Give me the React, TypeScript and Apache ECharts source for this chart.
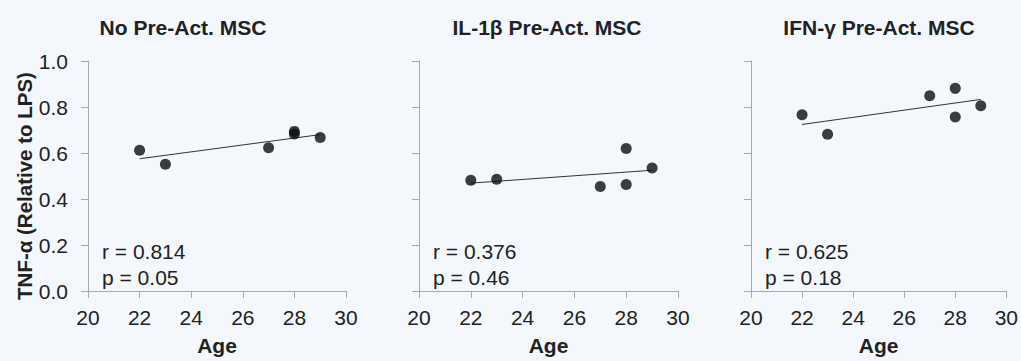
import React, { useEffect, useRef } from "react";
import * as echarts from "echarts";

const panelTitles = ["No Pre-Act. MSC", "IL-1β Pre-Act. MSC", "IFN-γ Pre-Act. MSC"];
const yAxisTitle = "TNF-α (Relative to LPS)";
const xAxisTitle = "Age";
const ages = [22, 23, 27, 28, 28, 29];
const noPreAct = [0.612, 0.551, 0.623, 0.694, 0.683, 0.667];
const il1bPreAct = [0.482, 0.486, 0.454, 0.620, 0.463, 0.535];
const ifngPreAct = [0.766, 0.682, 0.849, 0.881, 0.757, 0.805];
const trendAges = [22, 29];
const noPreActTrend = [0.575, 0.68];
const il1bTrend = [0.469, 0.525];
const ifngTrend = [0.724, 0.833];
const rValues = ["0.814", "0.376", "0.625"];
const pValues = ["0.05", "0.46", "0.18"];
const xTicks = [20, 22, 24, 26, 28, 30];
const yTicks = [0.0, 0.2, 0.4, 0.6, 0.8, 1.0];

const FONT = "'Liberation Sans', Arial, sans-serif";
const TEXT = "#222222";
const AXIS = "#a8a8a8";
const FS = 21;

export default function App() {
  const ref = useRef<HTMLDivElement>(null);
  useEffect(() => {
    if (!ref.current) return;
    const chart = echarts.init(ref.current, undefined, { renderer: "svg" });
    const grids = [
      { left: 88, width: 258 },
      { left: 419, width: 259 },
      { left: 751, width: 257 },
    ];
    const values = [noPreAct, il1bPreAct, ifngPreAct];
    const trends = [noPreActTrend, il1bTrend, ifngTrend];
    const titleCenters = [183, 547, 879];

    const option: any = {
      animation: false,
      backgroundColor: "#f4f8fc",
      textStyle: { fontFamily: FONT },
      grid: grids.map((g) => ({ left: g.left, width: g.width, top: 61, height: 236 })),
      xAxis: grids.map((_, i) => ({
        gridIndex: i,
        type: "value",
        min: xTicks[0],
        max: xTicks[xTicks.length - 1],
        interval: 2,
        name: xAxisTitle,
        nameLocation: "middle",
        nameGap: 44,
        nameTextStyle: { fontFamily: FONT, fontSize: FS, fontWeight: "bold", color: TEXT },
        axisLine: { show: true, lineStyle: { color: AXIS, width: 1 } },
        axisTick: { show: true, length: 7, lineStyle: { color: AXIS } },
        axisLabel: { fontFamily: FONT, fontSize: FS, color: TEXT, margin: 16 },
        splitLine: { show: false },
      })),
      yAxis: grids.map((_, i) => ({
        gridIndex: i,
        type: "value",
        min: yTicks[0],
        max: yTicks[yTicks.length - 1],
        interval: 0.2,
        axisLine: { show: true, lineStyle: { color: AXIS, width: 1 } },
        axisTick: { show: true, length: 7, lineStyle: { color: AXIS } },
        axisLabel: {
          show: i === 0,
          fontFamily: FONT,
          fontSize: FS,
          color: TEXT,
          margin: 20,
          formatter: (v: number) => v.toFixed(1),
        },
        splitLine: { show: false },
      })),
      series: [
        ...values.map((vals, i) => ({
          type: "scatter",
          xAxisIndex: i,
          yAxisIndex: i,
          symbol: "circle",
          symbolSize: 11,
          itemStyle: { color: "#0d0d0d" },
          data: ages.map((a, j) => [a, vals[j]]),
          z: 3,
        })),
        ...trends.map((t, i) => ({
          type: "line",
          xAxisIndex: i,
          yAxisIndex: i,
          symbol: "none",
          lineStyle: { color: "#333333", width: 1 },
          data: trendAges.map((a, j) => [a, t[j]]),
          z: 2,
        })),
      ],
      graphic: [
        {
          type: "text",
          x: 24,
          y: 186,
          rotation: Math.PI / 2,
          style: {
            text: yAxisTitle,
            fontFamily: FONT,
            fontSize: 20.5,
            fontWeight: "bold",
            fill: TEXT,
            align: "center",
            verticalAlign: "middle",
          },
        },
        ...panelTitles.map((t, i) => ({
          type: "text",
          x: titleCenters[i],
          y: 27,
          style: {
            text: t,
            fontFamily: FONT,
            fontSize: FS,
            fontWeight: "bold",
            fill: TEXT,
            align: "center",
            verticalAlign: "middle",
          },
        })),
        ...rValues.map((r, i) => ({
          type: "text",
          x: grids[i].left + 14,
          y: 251,
          style: {
            text: "r = " + r,
            fontFamily: FONT,
            fontSize: FS,
            fill: TEXT,
            align: "left",
            verticalAlign: "middle",
          },
        })),
        ...pValues.map((p, i) => ({
          type: "text",
          x: grids[i].left + 14,
          y: 277,
          style: {
            text: "p = " + p,
            fontFamily: FONT,
            fontSize: FS,
            fill: TEXT,
            align: "left",
            verticalAlign: "middle",
          },
        })),
      ],
    };
    chart.setOption(option);
    return () => chart.dispose();
  }, []);
  return (
    <div
      ref={ref}
      style={{ position: "absolute", left: 0, top: 0, width: 1021, height: 361 }}
    />
  );
}
